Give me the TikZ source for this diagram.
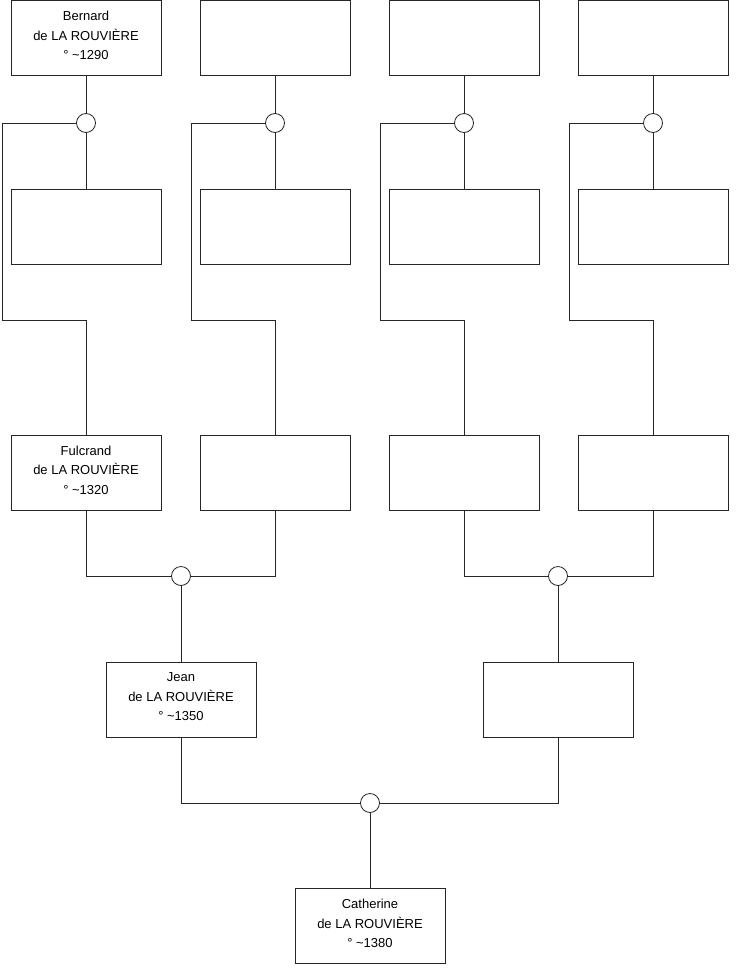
\documentclass[tikz,border=0pt]{standalone}
\usepackage{fontspec}
\setmainfont{Liberation Sans}
\usetikzlibrary{calc}
\begin{document}
\begin{tikzpicture}[x=1pt,y=-1pt,
  person/.style={draw=black!85,line width=1pt,rectangle,minimum width=150pt,minimum height=75pt,inner sep=0pt,align=center,font=\fontsize{13}{19.5}\selectfont},
  union/.style={draw=black!85,line width=0.8pt,circle,minimum size=19pt,inner sep=0pt,fill=white},
  link/.style={draw=black!85,line width=1pt},
  txt/.style={align=center,font=\fontsize{13}{19.5}\selectfont,inner sep=0pt}]
\useasboundingbox (0,0) rectangle (740,975);
% top row
\node[person] (a1) at (86,38) {};
\node[person] (a2) at (275,38) {};
\node[person] (a3) at (464,38) {};
\node[person] (a4) at (653,38) {};
% second row
\node[person] (b1) at (86,227) {};
\node[person] (b2) at (275,227) {};
\node[person] (b3) at (464,227) {};
\node[person] (b4) at (653,227) {};
% third row
\node[person] (c1) at (86,472.5) {};
\node[person] (c2) at (275,472.5) {};
\node[person] (c3) at (464,472.5) {};
\node[person] (c4) at (653,472.5) {};
% fourth row
\node[person] (d1) at (181,699.5) {};
\node[person] (d2) at (558,699.5) {};
% bottom
\node[person] (e1) at (370,926) {};
% texts
\node[txt] (t1) at ($(a1.center)+(0,-2.5)$) {Bernard\\de LA ROUVIÈRE\\° \textasciitilde1290};
\node[txt] (t2) at ($(c1.center)+(0,-2.5)$) {Fulcrand\\de LA ROUVIÈRE\\° \textasciitilde1320};
\node[txt] (t3) at ($(d1.center)+(0,-2.5)$) {Jean\\de LA ROUVIÈRE\\° \textasciitilde1350};
\node[txt] (t4) at ($(e1.center)+(0,-2.5)$) {Catherine\\de LA ROUVIÈRE\\° \textasciitilde1380};
% union circles
\node[union] (u1) at (86,123) {};
\node[union] (u2) at (275,123) {};
\node[union] (u3) at (464,123) {};
\node[union] (u4) at (653,123) {};
\node[union] (v1) at (181,576) {};
\node[union] (v2) at (558,576) {};
\node[union] (w1) at (370,803) {};
% branch corners
\coordinate (k1) at (2,123); \coordinate (k2) at (191,123);
\coordinate (k3) at (380,123); \coordinate (k4) at (569,123);
% connectors upper part
\foreach \i in {1,2,3,4}{
  \draw[link] (a\i.south) -- (u\i.north);
  \draw[link] (u\i.south) -- (b\i.north);
  \draw[link] (u\i.west) -- (k\i) |- ($(c\i.north)+(0,-114)$) -- (c\i.north);
}
% merges
\draw[link] (c1.south) |- (v1.west);
\draw[link] (c2.south) |- (v1.east);
\draw[link] (v1.south) -- (d1.north);
\draw[link] (c3.south) |- (v2.west);
\draw[link] (c4.south) |- (v2.east);
\draw[link] (v2.south) -- (d2.north);
\draw[link] (d1.south) |- (w1.west);
\draw[link] (d2.south) |- (w1.east);
\draw[link] (w1.south) -- (e1.north);
\end{tikzpicture}
\end{document}
